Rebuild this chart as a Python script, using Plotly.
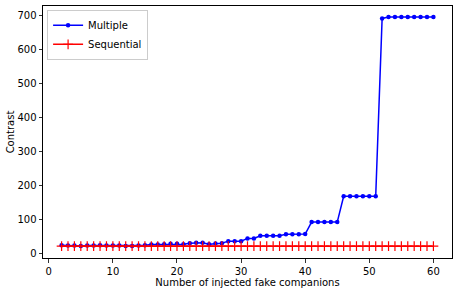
import plotly.graph_objects as go

n_fake = list(range(2, 61))
multiple = [24, 23, 23, 22, 23, 23, 24, 23, 23, 23, 22, 22, 23, 24,
            26, 26, 27, 28, 28, 27, 30, 31, 31, 27, 29, 30, 36, 36, 36,
            44, 44, 52, 52, 52, 52, 56, 56, 56, 57,
            92, 92, 92, 92, 92,
            168, 168, 168, 168, 168, 168,
            692, 696, 696, 696, 696, 696, 696, 696, 696]
sequential = [21] * len(n_fake)

x_ticks = [0, 10, 20, 30, 40, 50, 60]
y_ticks = [0, 100, 200, 300, 400, 500, 600, 700]

fig = go.Figure()
fig.add_trace(go.Scatter(
    x=n_fake, y=multiple, name="Multiple", mode="lines+markers",
    line=dict(color="blue", width=1.5),
    marker=dict(symbol="circle", size=4.5, color="blue"),
))
fig.add_trace(go.Scatter(
    x=n_fake, y=sequential, name="Sequential", mode="lines+markers",
    line=dict(color="red", width=1.5),
    marker=dict(symbol="cross-thin", size=7, color="red",
                line=dict(color="red", width=1.2)),
))

axis_common = dict(
    showline=True, linecolor="black", linewidth=1, mirror=True,
    ticks="outside", ticklen=3.5, tickwidth=0.8, tickcolor="black",
    showgrid=False, zeroline=False, automargin=False,
    tickfont=dict(family="DejaVu Sans", size=10, color="black"),
)

fig.update_layout(
    width=459, height=291,
    margin=dict(l=43, r=7, t=6, b=33),
    plot_bgcolor="white", paper_bgcolor="white",
    font=dict(family="DejaVu Sans", size=10, color="black"),
    xaxis=dict(range=[-0.9, 62.9], tickvals=x_ticks,
               title=dict(text="Number of injected fake companions", standoff=1,
                          font=dict(size=10)),
               **axis_common),
    yaxis=dict(range=[-13.7, 728.7], tickvals=y_ticks,
               title=dict(text="Contrast", standoff=0, font=dict(size=10)),
               **axis_common),
    legend=dict(x=0.01, y=0.985, xanchor="left", yanchor="top",
                bgcolor="rgba(255,255,255,0.8)", bordercolor="#cccccc",
                borderwidth=1, font=dict(size=10),
                tracegroupgap=0, itemwidth=30),
    showlegend=True,
)

fig.write_html("out.html",
               config={"displayModeBar": False, "staticPlot": True},
               post_script="document.body.style.margin='0';document.body.style.overflow='hidden';")
